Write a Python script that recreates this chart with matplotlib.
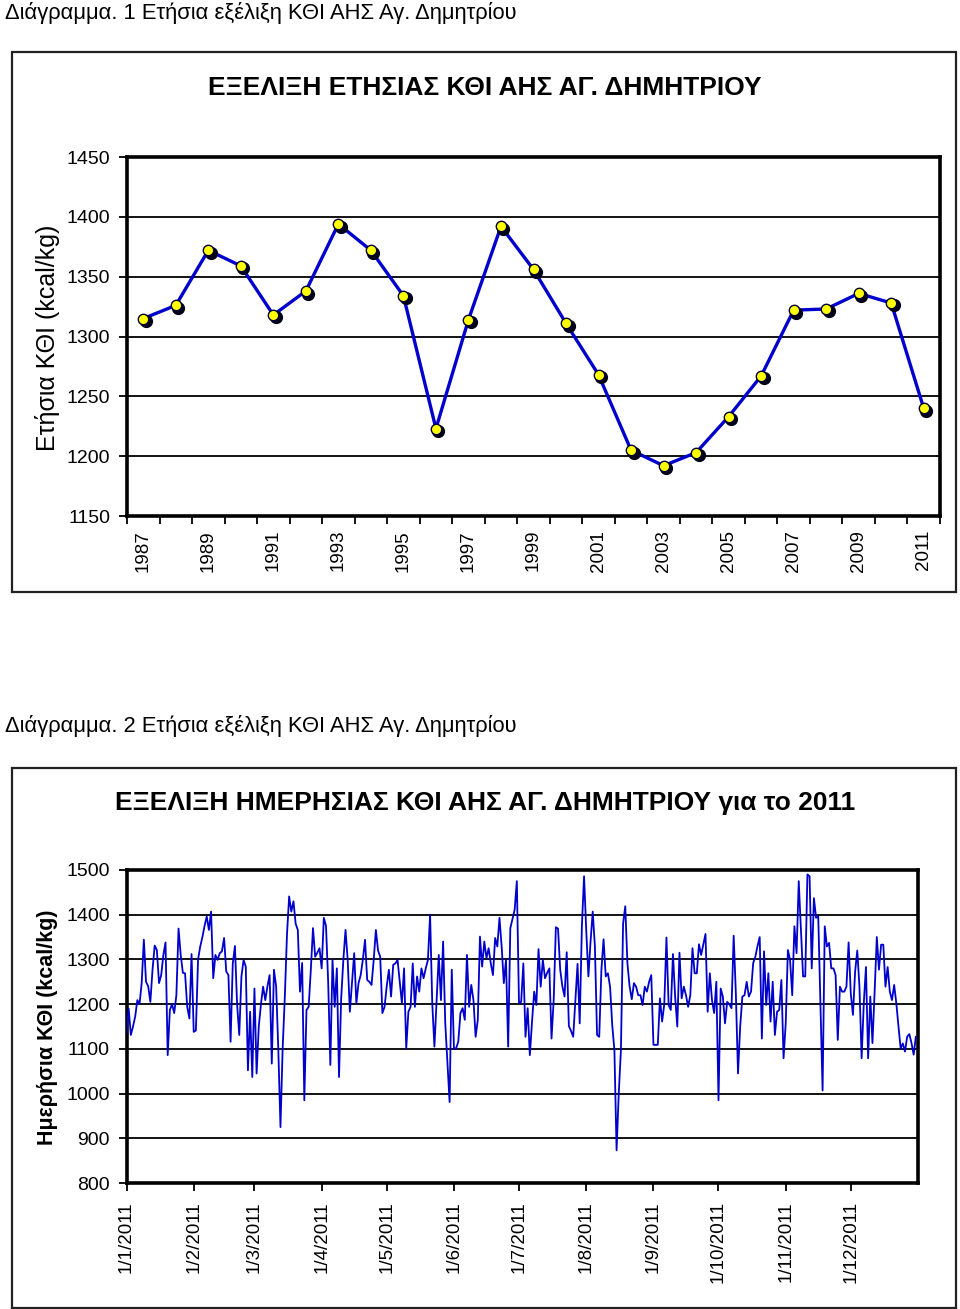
import numpy as np
import matplotlib
matplotlib.use("Agg")
import matplotlib.pyplot as plt
import matplotlib.transforms as mtransforms
from matplotlib.patches import Rectangle

plt.rcParams['font.family'] = ['Liberation Sans', 'DejaVu Sans']

# --- annual data (chart 1)
years = list(range(1987, 2012))
annual_kthi = [1315, 1326, 1372, 1359, 1318, 1338, 1394, 1372, 1334, 1223,
               1314, 1392, 1356, 1311, 1268, 1205, 1192, 1203, 1233, 1267,
               1322, 1323, 1336, 1328, 1240]

# --- daily data 2011 (chart 2), one list per month
jan = [1134, 1190, 1131, 1150, 1172, 1209, 1200, 1247, 1344, 1250, 1240, 1205, 1277, 1331, 1321, 1247,
       1265, 1310, 1338, 1086, 1187, 1200, 1180, 1220, 1369, 1310, 1270, 1269, 1194, 1168, 1312]
feb = [1138, 1141, 1300, 1329, 1350, 1375, 1396, 1366, 1407, 1258, 1310, 1299, 1314, 1318, 1348, 1273,
       1265, 1116, 1290, 1330, 1200, 1131, 1262, 1299, 1284, 1052, 1183, 1037]
mar = [1235, 1045, 1150, 1200, 1239, 1209, 1240, 1265, 1067, 1277, 1240, 1100, 925, 1100, 1215, 1355,
       1441, 1407, 1430, 1380, 1366, 1228, 1292, 985, 1187, 1194, 1277, 1370, 1306, 1315, 1325]
apr = [1280, 1393, 1375, 1250, 1064, 1299, 1194, 1280, 1037, 1213, 1299, 1366, 1299, 1183, 1250, 1314,
       1202, 1247, 1265, 1300, 1344, 1254, 1250, 1243, 1299, 1366, 1320, 1306, 1180, 1194]
may = [1240, 1277, 1217, 1288, 1291, 1299, 1250, 1202, 1280, 1101, 1183, 1194, 1291, 1194, 1262, 1228,
       1280, 1258, 1280, 1299, 1400, 1202, 1105, 1209, 1310, 1209, 1340, 1157, 1067, 981, 1277]
jun = [1101, 1101, 1116, 1180, 1191, 1165, 1310, 1194, 1243, 1209, 1127, 1165, 1351, 1284, 1340, 1303,
       1325, 1291, 1265, 1348, 1329, 1393, 1329, 1247, 1299, 1105, 1370, 1390, 1411, 1475]
jul = [1202, 1205, 1291, 1127, 1191, 1086, 1160, 1228, 1198, 1323, 1239, 1299, 1258, 1270, 1280, 1123,
       1209, 1372, 1369, 1277, 1240, 1217, 1316, 1151, 1140, 1127, 1209, 1290, 1157, 1374, 1486]
aug = [1366, 1262, 1340, 1407, 1329, 1131, 1127, 1277, 1345, 1262, 1269, 1239, 1153, 1097, 873, 1000,
       1097, 1380, 1419, 1291, 1240, 1211, 1247, 1239, 1220, 1220, 1198, 1239, 1228, 1250, 1265]
sep = [1109, 1109, 1109, 1213, 1161, 1200, 1349, 1198, 1187, 1312, 1217, 1150, 1315, 1213, 1239, 1220,
       1194, 1220, 1325, 1269, 1269, 1334, 1310, 1333, 1357, 1183, 1269, 1209, 1180, 1250]
oct_ = [985, 1235, 1217, 1157, 1205, 1200, 1191, 1353, 1224, 1045, 1150, 1217, 1220, 1250, 1217, 1228,
        1292, 1306, 1330, 1350, 1123, 1318, 1198, 1269, 1161, 1250, 1131, 1183, 1187, 1254, 1079]
nov = [1157, 1321, 1299, 1220, 1374, 1314, 1475, 1366, 1262, 1262, 1490, 1486, 1280, 1437, 1393, 1396,
       1200, 1007, 1374, 1329, 1337, 1280, 1280, 1265, 1120, 1239, 1228, 1228, 1239, 1338]
dec = [1224, 1176, 1273, 1320, 1239, 1079, 1202, 1283, 1079, 1217, 1113, 1228, 1350, 1277, 1333, 1333,
       1239, 1283, 1228, 1209, 1243, 1202, 1150, 1101, 1112, 1094, 1127, 1133, 1113, 1087, 1127]

month_labels = ['1/1/2011', '1/2/2011', '1/3/2011', '1/4/2011', '1/5/2011', '1/6/2011',
                '1/7/2011', '1/8/2011', '1/9/2011', '1/10/2011', '1/11/2011', '1/12/2011']

daily = np.array(jan + feb + mar + apr + may + jun + jul + aug + sep + oct_ + nov + dec)
days = np.arange(len(daily))
month_starts = np.cumsum([0] + [len(m) for m in [jan, feb, mar, apr, may, jun, jul, aug, sep, oct_, nov]])

W, H = 960, 1309
fig = plt.figure(figsize=(W / 100, H / 100), dpi=100)


def fx(px):
    return px / W


def fy(py):
    return 1 - py / H


def style_axes(ax):
    for s in ax.spines.values():
        s.set_linewidth(2.6)
        s.set_color('black')
    ax.grid(axis='y', color='black', linewidth=1.3)
    ax.set_axisbelow(True)
    ax.tick_params(axis='both', direction='out', length=6, width=1.3, labelsize=14, pad=6)


# frames around each chart
for top in (52, 768):
    fig.patches.append(Rectangle((fx(12), fy(top + 540)), fx(944), 540 / H, transform=fig.transFigure,
                                 fill=False, edgecolor='#222222', linewidth=1.6))

# ---------------- chart 1
fig.text(fx(5), fy(13), 'Διάγραμμα. 1 Ετήσια εξέλιξη ΚΘΙ ΑΗΣ Αγ. Δημητρίου', fontsize=15.8,
         ha='left', va='center')
fig.text(fx(485), fy(88), 'ΕΞΕΛΙΞΗ ΕΤΗΣΙΑΣ ΚΘΙ ΑΗΣ ΑΓ. ΔΗΜΗΤΡΙΟΥ', fontsize=19, fontweight='bold',
         ha='center', va='center')
fig.text(fx(48), fy(338), 'Ετήσια ΚΘΙ (kcal/kg)', fontsize=18, rotation=90, ha='center', va='center')

ax1 = fig.add_axes([fx(127), fy(516), fx(940 - 127), (516 - 157) / H])
style_axes(ax1)
idx = np.arange(len(years))
shadow = mtransforms.offset_copy(ax1.transData, fig=fig, x=2.5, y=-2.5, units='dots')
ax1.plot(idx, annual_kthi, color='#0000CC', linewidth=2.4, zorder=3)
ax1.plot(idx, annual_kthi, linestyle='none', marker='o', markersize=8.5, color='#000018',
         transform=shadow, zorder=4)
ax1.plot(idx, annual_kthi, linestyle='none', marker='o', markersize=7.5, markerfacecolor='#FFFF00',
         markeredgecolor='#000033', markeredgewidth=1.0, zorder=5)
ax1.set_xlim(-0.5, len(years) - 0.5)
ax1.set_ylim(1150, 1450)
ax1.set_yticks(np.arange(1150, 1451, 50))
ax1.set_xticks(idx[::2])
ax1.set_xticklabels([str(y) for y in years[::2]], rotation=90)
ax1.set_xticks(np.arange(-0.5, len(years), 1), minor=True)
ax1.tick_params(axis='x', which='major', length=0, pad=10, labelsize=13.5)
ax1.tick_params(axis='x', which='minor', length=6, width=1.3)

# ---------------- chart 2
fig.text(fx(5), fy(726), 'Διάγραμμα. 2 Ετήσια εξέλιξη ΚΘΙ ΑΗΣ Αγ. Δημητρίου', fontsize=15.8,
         ha='left', va='center')
fig.text(fx(485), fy(803), 'ΕΞΕΛΙΞΗ ΗΜΕΡΗΣΙΑΣ ΚΘΙ ΑΗΣ ΑΓ. ΔΗΜΗΤΡΙΟΥ για το 2011', fontsize=19,
         fontweight='bold', ha='center', va='center')
fig.text(fx(48), fy(1027), 'Ημερήσια ΚΘΙ (kcal/kg)', fontsize=15.5, fontweight='bold', rotation=90,
         ha='center', va='center')

ax2 = fig.add_axes([fx(126.5), fy(1183), fx(918 - 126.5), (1183 - 870) / H])
style_axes(ax2)
ax2.plot(days, daily, color='#0000CC', linewidth=1.3, zorder=3)
ax2.set_xlim(0, 365)
ax2.set_ylim(800, 1500)
ax2.set_yticks(np.arange(800, 1501, 100))
ax2.set_xticks(month_starts)
ax2.set_xticklabels(month_labels, rotation=90, va='top')
ax2.tick_params(axis='x', length=6, pad=7, labelsize=13.5)

fig.savefig('out.png', dpi=100)
